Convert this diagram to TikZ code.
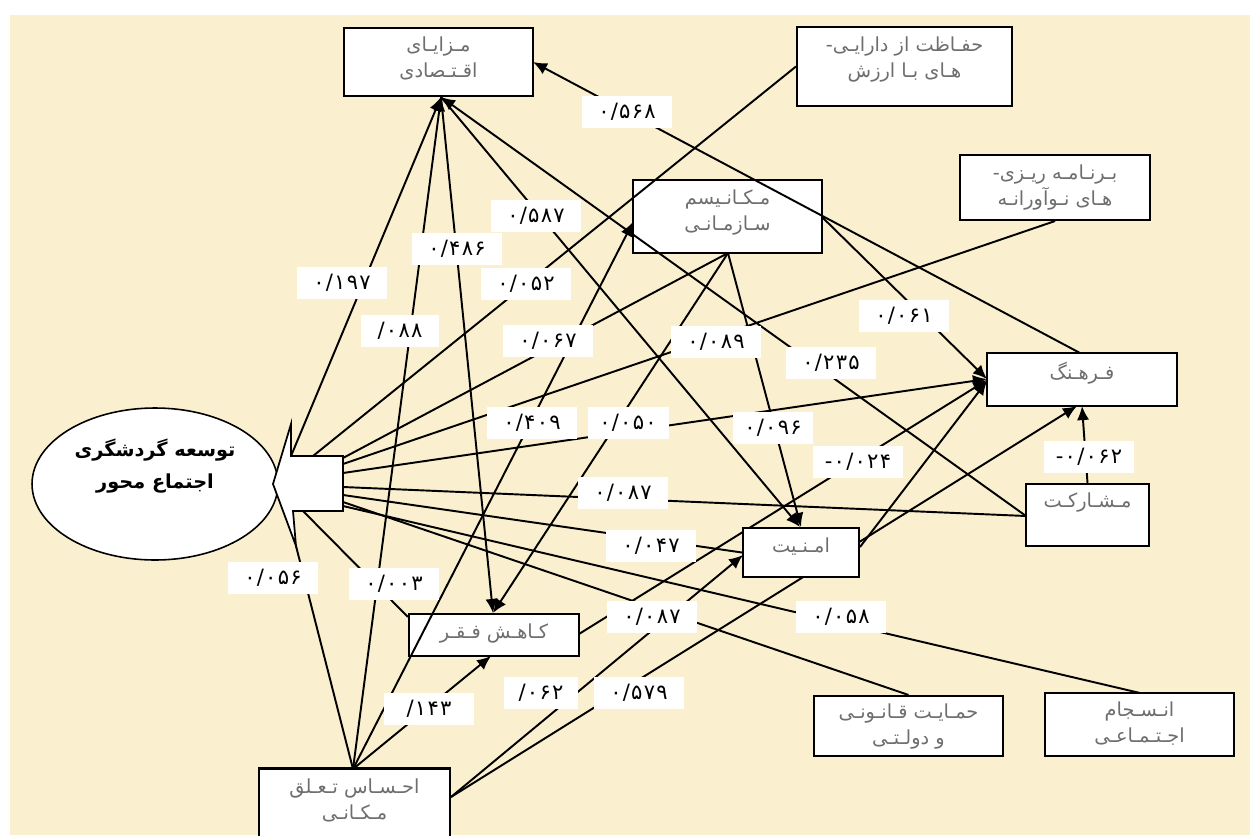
\documentclass[tikz,border=0pt]{standalone}
\usepackage{fontspec}
\usetikzlibrary{arrows.meta,shapes.geometric}
\TeXXeTstate=1
\newfontfamily\fa[Script=Arabic]{DejaVu Sans}
\newfontfamily\fanum[LetterSpace=6]{DejaVu Sans}
\definecolor{bgc}{RGB}{250,239,207}
\definecolor{txg}{RGB}{110,110,110}
\tikzset{
  box/.style={draw=black,line width=1.2pt,fill=white,inner sep=0pt},
  btxt/.style={anchor=north,font=\fa\fontsize{11}{15}\selectfont,text=txg,align=center,inner sep=0pt},
  lbl/.style={fill=white,inner sep=0pt,minimum width=1.8cm,minimum height=0.64cm,font=\fanum\fontsize{12}{13}\selectfont},
  conn/.style={line width=1.1pt,black},
  arr/.style={conn,-{Latex[length=8pt,width=7pt]}}
}
\begin{document}
\begin{tikzpicture}[x=0.02cm,y=-0.02cm]
\fill[white] (0,0) rectangle (1250,835);
\fill[bgc] (10,15) rectangle (1250,835);
\useasboundingbox (0,0) rectangle (1250,835);
% ellipse
\node[draw=black,line width=0.9pt,fill=white,ellipse,minimum width=4.92cm,minimum height=3.04cm,inner sep=0pt] (goal) at (155,484) {};
\node[font=\fa\bfseries\fontsize{11}{18}\selectfont,align=center] at (155,466) {\beginR توسعه گردشگری\endR\\\beginR اجتماع محور\endR};
% big arrow
\coordinate (tip) at (273,484);
\coordinate (htop) at (291,424);
\coordinate (hbot) at (296,546);
\coordinate (sTL) at (291,456);
\coordinate (sTR) at (343,456);
\coordinate (sBR) at (343,511);
\coordinate (sBL) at (293,511);
\draw[line width=1pt,fill=white] (tip) -- (htop) -- (sTL) -- (sTR) -- (sBR) -- (sBL) -- (hbot) -- cycle;
% origin points
\coordinate (o197) at (291,456);
\coordinate (o052) at (313,456);
\coordinate (o067) at (343,458);
\coordinate (o089) at (343,464);
\coordinate (o050) at (343,473);
\coordinate (o087) at (343,487);
\coordinate (o047) at (343,495);
\coordinate (o087b) at (343,502);
\coordinate (o058) at (343,506);
\coordinate (o003) at (303,511);
\coordinate (o056) at (296,546);
% boxes
\node[box,minimum width=3.78cm,minimum height=1.36cm] (maz) at (438.5,62) {};
\node[box,minimum width=4.30cm,minimum height=1.58cm] (hef) at (904.5,66.5) {};
\node[box,minimum width=3.78cm,minimum height=1.46cm] (mek) at (727.5,216.5) {};
\node[box,minimum width=3.80cm,minimum height=1.30cm] (bar) at (1055,187.5) {};
\node[box,minimum width=3.80cm,minimum height=1.06cm] (far) at (1082,379.5) {};
\node[box,minimum width=2.46cm,minimum height=1.24cm] (mos) at (1087.5,515) {};
\node[box,minimum width=3.40cm,minimum height=0.84cm] (kah) at (494,635) {};
\node[box,minimum width=3.78cm,minimum height=1.20cm] (hem) at (908.5,726) {};
\node[box,minimum width=3.78cm,minimum height=1.26cm] (ens) at (1139.5,724.5) {};
\node[box,minimum width=3.82cm,minimum height=1.70cm] (ehs) at (354.5,811) {};
% connectors
\coordinate (mazB) at (441,97);
\coordinate (ehsT) at (353,769);
\coordinate (ehsR) at (451,797);
\coordinate (mekB) at (728,253);
\coordinate (mosL) at (1026,516);
\draw[arr] (o197) -- (mazB);
\draw[arr] (ehsT) -- (mazB);
\draw[arr] (mazB) -- (493,613);
\draw[arr] (mazB) -- (800,527);
\draw[arr] (mosL) -- (mazB);
\draw[arr] (1080,353) -- (533,62);
\draw[conn] (hef.west) -- (o052);
\draw[conn] (mekB) -- (o067);
\draw[conn] (bar.south) -- (o089);
\draw[arr] (ehsT) -- (633,222);
\draw[arr] (o050) -- (987,379);
\draw[arr] (mekB) -- (493,613);
\draw[arr] (mekB) -- (801,527);
\draw[arr] (822,217) -- (987,379);
\draw[arr] (579,634) -- (987,380);
\draw[arr] (ehsR) -- (1077,406);
\draw[arr] (mos.north) -- (1082,406);
\draw[conn] (mosL) -- (o087);
\draw[conn] (o058) -- (1140,693);
\draw[conn] (kah.west) ++(0,-18) -- (o003);
\draw[conn] (ehsT) -- (o056);
\draw[arr] (ehsT) -- (491,656);
% amniat box over the 579 line
\node[box,minimum width=2.32cm,minimum height=0.98cm] (amn) at (801,552.5) {};
\draw[arr] (860,547) -- (987,381);
\draw[conn] (amn.west) -- (o047);
\draw[conn] (hem.north) -- (o087b);
\draw[arr] (ehsR) -- (743,555);
% box texts
\node[btxt] at (438.5,36) {\beginR مـزایـای\endR\\\beginR اقـتـصادی\endR};
\node[btxt] at (904.5,36) {\beginR حفـاظت از دارایـی-\endR\\\beginR هـای بـا ارزش\endR};
\node[btxt] at (727.5,189) {\beginR مـکـانـیسم\endR\\\beginR سـازمـانـی\endR};
\node[btxt] at (1055,164) {\beginR بـرنـامـه ریـزی-\endR\\\beginR هـای نـوآورانـه\endR};
\node[btxt] at (1082,362) {\beginR فـرهـنگ\endR};
\node[btxt] at (1087.5,492) {\beginR مـشـارکـت\endR};
\node[btxt] at (801,537) {\beginR امـنـیت\endR};
\node[btxt] at (494,623) {\beginR کـاهـش فـقـر\endR};
\node[btxt] at (908.5,703) {\beginR حمـایـت قـانـونـی\endR\\\beginR و دولـتـی\endR};
\node[btxt] at (1139.5,701) {\beginR انـسـجام\endR\\\beginR اجـتـمـاعـی\endR};
\node[btxt] at (354.5,778) {\beginR احـسـاس تـعـلق\endR\\\beginR مـکـانـی\endR};
% labels
\node[lbl] (l1) at (627,112) {۰/۵۶۸};
\node[lbl] (l2) at (536,216) {۰/۵۸۷};
\node[lbl] (l3) at (457,249) {۰/۴۸۶};
\node[lbl] (l4) at (342,283) {۰/۱۹۷};
\node[lbl] (l5) at (526,284) {۰/۰۵۲};
\node[lbl,minimum width=1.58cm] (l6) at (400,331) {/۰۸۸};
\node[lbl] (l7) at (548,341) {۰/۰۶۷};
\node[lbl] (l8) at (716,342) {۰/۰۸۹};
\node[lbl] (l9) at (904,316) {۰/۰۶۱};
\node[lbl] (l10) at (831,363) {۰/۲۳۵};
\node[lbl] (l11) at (532,423) {۰/۴۰۹};
\node[lbl,minimum width=1.62cm] (l12) at (628,423) {۰/۰۵۰};
\node[lbl,minimum width=1.6cm] (l13) at (773,428) {۰/۰۹۶};
\node[lbl] (l14) at (858,462) {-۰/۰۲۴};
\node[lbl] (l15) at (1089,457) {-۰/۰۶۲};
\node[lbl] (l16) at (623,493) {۰/۰۸۷};
\node[lbl] (l17) at (651,546) {۰/۰۴۷};
\node[lbl] (l18) at (273,578) {۰/۰۵۶};
\node[lbl] (l19) at (394,584) {۰/۰۰۳};
\node[lbl] (l20) at (652,617) {۰/۰۸۷};
\node[lbl] (l21) at (841,617) {۰/۰۵۸};
\node[lbl] (l22) at (429,709) {/۱۴۳};
\node[lbl,minimum width=1.48cm] (l23) at (541,693) {/۰۶۲};
\node[lbl] (l24) at (639,693) {۰/۵۷۹};
\end{tikzpicture}
\end{document}
